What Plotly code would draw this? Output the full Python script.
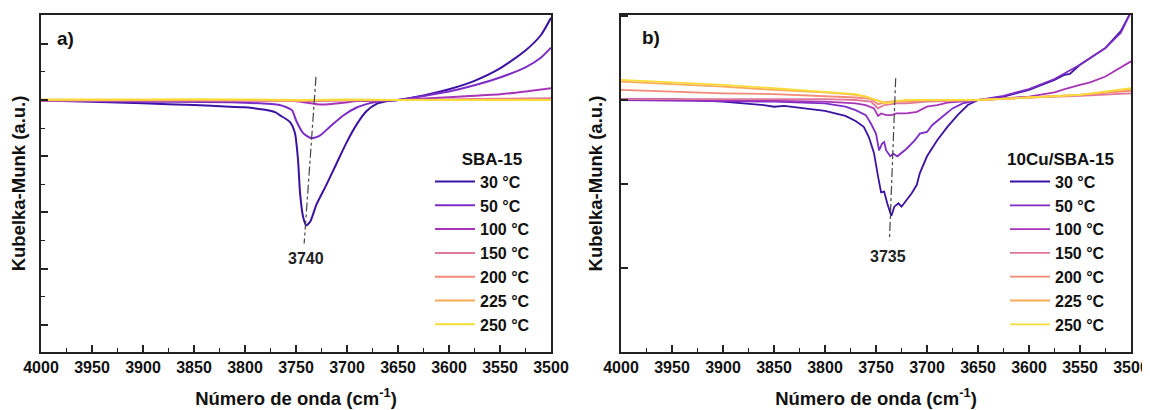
import plotly.graph_objects as go

# ---------------- data ----------------
temps = ["30 °C", "50 °C", "100 °C", "150 °C", "200 °C", "225 °C", "250 °C"]
colors = ["#3b12a3", "#7e2cc8", "#a835b8", "#e0789c", "#f38a78", "#fbaa5c", "#f9dc3a"]

# Panel a) SBA-15
a_wn_30 = [4000, 3950, 3900, 3850, 3815, 3800, 3782, 3770, 3766, 3756, 3751, 3748, 3746, 3743,
           3740, 3736, 3730, 3720, 3710, 3700, 3690, 3681, 3671, 3660, 3650, 3625, 3600, 3575,
           3550, 3525, 3510, 3500]
a_km_30 = [-0.01, -0.03, -0.06, -0.09, -0.12, -0.13, -0.17, -0.22, -0.27, -0.39, -0.59, -1.07,
           -1.66, -2.08, -2.23, -2.16, -1.86, -1.50, -1.12, -0.74, -0.42, -0.20, -0.07, -0.02,
           0.0, 0.08, 0.19, 0.34, 0.56, 0.88, 1.15, 1.46]
a_wn_50 = [4000, 3900, 3815, 3766, 3754, 3750, 3743, 3735, 3727, 3717, 3704, 3690, 3680, 3671,
           3660, 3650, 3625, 3600, 3575, 3550, 3525, 3510, 3500]
a_km_50 = [-0.01, -0.03, -0.04, -0.09, -0.18, -0.36, -0.59, -0.68, -0.64, -0.48, -0.28, -0.13,
           -0.07, -0.03, -0.01, 0.0, 0.07, 0.15, 0.26, 0.40, 0.58, 0.75, 0.93]
a_wn_100 = [4000, 3900, 3800, 3760, 3745, 3735, 3727, 3715, 3700, 3690, 3670, 3650, 3600, 3550,
            3525, 3500]
a_km_100 = [-0.01, -0.01, -0.01, -0.01, -0.03, -0.06, -0.08, -0.07, -0.04, -0.02, -0.01, 0.0,
            0.05, 0.10, 0.15, 0.21]
a_wn_flat = [4000, 3900, 3800, 3745, 3735, 3700, 3650, 3600, 3550, 3500]
a_km_150 = [-0.01, -0.01, -0.01, -0.02, -0.02, -0.01, 0.0, 0.01, 0.02, 0.03]
a_km_200 = [0.0, 0.0, 0.0, -0.01, -0.01, 0.0, 0.0, 0.0, 0.01, 0.01]
a_km_225 = [0.0, 0.0, 0.0, -0.01, 0.0, 0.0, 0.0, 0.0, 0.0, 0.0]
a_km_250 = [0.01, 0.01, 0.01, 0.0, 0.0, 0.01, 0.0, 0.0, 0.0, 0.0]

# Panel b) 10Cu/SBA-15
b_wn_30 = [4000, 3950, 3900, 3880, 3860, 3850, 3840, 3820, 3800, 3790, 3780, 3770, 3762, 3757,
           3752, 3748, 3745, 3742, 3739, 3735, 3732, 3728, 3725, 3720, 3715, 3710, 3707, 3700,
           3690, 3680, 3670, 3660, 3650, 3625, 3600, 3575, 3565, 3560, 3550, 3525, 3510, 3500]
b_km_30 = [0.01, 0.01, -0.02, -0.04, -0.06, -0.08, -0.07, -0.10, -0.13, -0.16, -0.19, -0.25,
           -0.32, -0.44, -0.63, -0.91, -1.10, -1.09, -1.23, -1.38, -1.27, -1.23, -1.27, -1.19,
           -1.11, -1.01, -0.87, -0.67, -0.48, -0.32, -0.18, -0.06, 0.0, 0.04, 0.12, 0.24, 0.30,
           0.31, 0.42, 0.62, 0.82, 1.05]
b_wn_50 = [4000, 3900, 3850, 3800, 3780, 3770, 3760, 3755, 3750, 3747, 3744, 3742, 3740, 3736,
           3733, 3729, 3725, 3720, 3712, 3707, 3700, 3695, 3685, 3675, 3665, 3650, 3625, 3600,
           3575, 3550, 3525, 3510, 3500]
b_km_50 = [0.0, -0.01, -0.02, -0.04, -0.08, -0.12, -0.18, -0.28, -0.40, -0.60, -0.52, -0.50,
           -0.60, -0.67, -0.64, -0.67, -0.63, -0.58, -0.48, -0.40, -0.38, -0.30, -0.20, -0.10,
           -0.04, 0.0, 0.05, 0.13, 0.25, 0.42, 0.62, 0.80, 1.05]
b_wn_100 = [4000, 3900, 3800, 3770, 3760, 3752, 3748, 3745, 3740, 3735, 3730, 3720, 3710, 3700,
            3690, 3680, 3650, 3600, 3575, 3565, 3550, 3540, 3525, 3500]
b_km_100 = [0.01, 0.0, -0.02, -0.04, -0.06, -0.10, -0.19, -0.16, -0.18, -0.18, -0.16, -0.16,
            -0.14, -0.08, -0.06, -0.03, 0.0, 0.04, 0.09, 0.13, 0.18, 0.21, 0.28, 0.46]
b_wn_rest = [4000, 3950, 3900, 3850, 3800, 3770, 3760, 3755, 3748, 3745, 3742, 3735, 3730, 3720,
             3700, 3650, 3600, 3550, 3500]
b_km_150 = [0.01, 0.01, 0.01, 0.01, 0.01, 0.0, -0.01, -0.02, -0.10, -0.08, -0.06, -0.05, -0.04,
            -0.04, -0.02, 0.0, 0.03, 0.05, 0.08]
b_km_200 = [0.12, 0.10, 0.08, 0.07, 0.05, 0.03, 0.02, 0.01, -0.05, -0.04, -0.03, -0.02, -0.02,
            -0.02, -0.01, 0.0, 0.03, 0.06, 0.11]
b_km_225 = [0.22, 0.19, 0.16, 0.12, 0.09, 0.06, 0.04, 0.02, -0.01, -0.02, -0.03, -0.02, -0.01,
            -0.01, 0.0, 0.0, 0.03, 0.06, 0.13]
b_km_250 = [0.24, 0.21, 0.18, 0.14, 0.10, 0.07, 0.04, 0.02, 0.0, -0.02, -0.04, -0.03, -0.01,
            0.0, 0.0, 0.0, 0.03, 0.06, 0.14]

# guide lines and labels
a_guide_wn = [3730.4, 3742.0]
a_guide_km = [0.41, -2.55]
b_guide_wn = [3730.7, 3736.8]
b_guide_km = [0.26, -1.67]
peak_labels = ["3740", "3735"]
peak_label_wn = [3740, 3738]
peak_label_km = [-2.82, -1.86]
panel_labels = ["a)", "b)"]
panel_label_wn = [3976, 3971]
panel_label_km = [1.10, 0.74]
legend_titles = ["SBA-15", "10Cu/SBA-15"]
x_title = "Número de onda (cm<sup>-1</sup>)"
y_title = "Kubelka-Munk (a.u.)"

# ---------------- figure ----------------
FONT = "Arial, Liberation Sans, sans-serif"
fig = go.Figure()

a_series = [(a_wn_30, a_km_30), (a_wn_50, a_km_50), (a_wn_100, a_km_100),
            (a_wn_flat, a_km_150), (a_wn_flat, a_km_200), (a_wn_flat, a_km_225),
            (a_wn_flat, a_km_250)]
b_series = [(b_wn_30, b_km_30), (b_wn_50, b_km_50), (b_wn_100, b_km_100),
            (b_wn_rest, b_km_150), (b_wn_rest, b_km_200), (b_wn_rest, b_km_225),
            (b_wn_rest, b_km_250)]

for (xs, ys), name, col in zip(a_series, temps, colors):
    fig.add_trace(go.Scatter(x=xs, y=ys, mode="lines", name=name,
                             line=dict(color=col, width=2, shape="spline", smoothing=0.6),
                             xaxis="x", yaxis="y", legend="legend"))
for (xs, ys), name, col in zip(b_series, temps, colors):
    fig.add_trace(go.Scatter(x=xs, y=ys, mode="lines", name=name,
                             line=dict(color=col, width=1.8),
                             xaxis="x2", yaxis="y2", legend="legend2"))

for gx, gy, xa, ya in [(a_guide_wn, a_guide_km, "x", "y"), (b_guide_wn, b_guide_km, "x2", "y2")]:
    fig.add_trace(go.Scatter(x=gx, y=gy, mode="lines", showlegend=False, hoverinfo="skip",
                             line=dict(color="#444444", width=1.2, dash="dashdot"),
                             xaxis=xa, yaxis=ya))

annotations = []
for i, (xa, ya) in enumerate([("x", "y"), ("x2", "y2")]):
    annotations.append(dict(x=peak_label_wn[i], y=peak_label_km[i], xref=xa, yref=ya,
                            text=peak_labels[i], showarrow=False,
                            font=dict(family=FONT, size=16, color="#222222", weight="bold")))
    annotations.append(dict(x=panel_label_wn[i], y=panel_label_km[i], xref=xa, yref=ya,
                            text=panel_labels[i], showarrow=False,
                            font=dict(family=FONT, size=19, color="#111111", weight="bold")))

xaxis_common = dict(range=[4000, 3500], autorange=False, dtick=50, tick0=0,
                    ticks="inside", ticklen=7, tickwidth=1.5, tickcolor="#222222",
                    minor=dict(dtick=25, ticks="inside", ticklen=4, tickwidth=1.2, tickcolor="#222222"),
                    showline=True, linecolor="#222222", linewidth=2, mirror=True,
                    showgrid=False, zeroline=False, automargin=False,
                    tickfont=dict(family=FONT, size=16, color="#111111", weight="bold"),
                    title=dict(text=x_title, standoff=17,
                               font=dict(family=FONT, size=18.5, color="#111111", weight="bold")))
yaxis_common = dict(showticklabels=False, ticks="inside", ticklen=7, tickwidth=1.5,
                    tickcolor="#222222", showline=True, linecolor="#222222", linewidth=2,
                    mirror=True, showgrid=False, zeroline=False, dtick=1, tick0=0,
                    automargin=False,
                    title=dict(text=y_title, standoff=12,
                               font=dict(family=FONT, size=18.5, color="#111111", weight="bold")))

# the page body adds an 8 px margin; lay out in screen pixels minus that offset
OFF = 8
W, H = 1150 - OFF, 410 - OFF
def px_x(v):
    return (v - OFF) / W
def px_y(v):
    return 1 - (v - OFF) / H

ydom = [px_y(352), px_y(15)]
NB = "\u00a0"
fig.update_layout(
    width=W, height=H, margin=dict(l=0, r=0, t=0, b=0, autoexpand=False), autosize=False,
    paper_bgcolor="white", plot_bgcolor="white",
    xaxis=dict(domain=[px_x(41), px_x(551)], anchor="y", **xaxis_common),
    yaxis=dict(domain=ydom, anchor="x", range=[-4.48, 1.51],
               minor=dict(dtick=0.5, ticks="inside", ticklen=4, tickwidth=1.2, tickcolor="#222222"),
               **yaxis_common),
    xaxis2=dict(domain=[px_x(621), px_x(1131)], anchor="y2", **xaxis_common),
    yaxis2=dict(domain=ydom, anchor="x2", range=[-3.0, 1.012], **yaxis_common),
    legend=dict(x=px_x(430), y=px_y(142.5), xanchor="left", yanchor="top",
                bgcolor="rgba(0,0,0,0)", borderwidth=0, itemwidth=40,
                font=dict(family=FONT, size=16, color="#111111", weight="bold"),
                title=dict(text=NB * 4 + legend_titles[0], side="top center",
                           font=dict(family=FONT, size=17, color="#111111", weight="bold"))),
    legend2=dict(x=px_x(1005), y=px_y(142.5), xanchor="left", yanchor="top",
                 bgcolor="rgba(0,0,0,0)", borderwidth=0, itemwidth=40,
                 font=dict(family=FONT, size=16, color="#111111", weight="bold"),
                 title=dict(text=legend_titles[1], side="top center",
                            font=dict(family=FONT, size=17, color="#111111", weight="bold"))),
    annotations=annotations,
    showlegend=True,
)

fig.write_html("out.html")
